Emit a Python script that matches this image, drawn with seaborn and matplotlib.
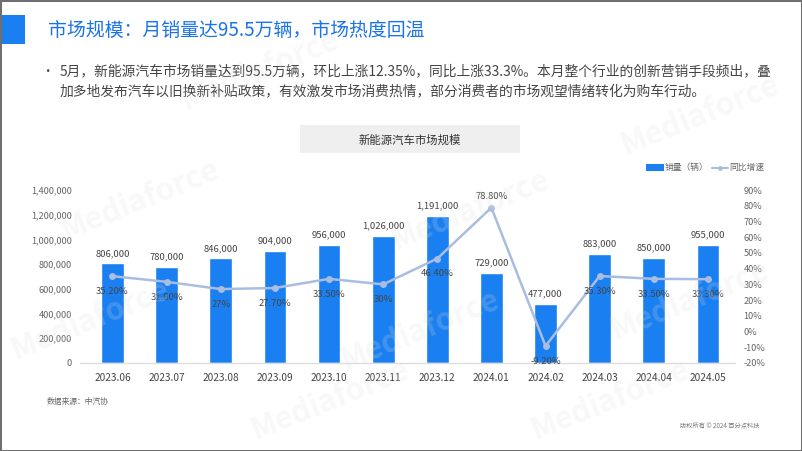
import numpy as np
import pandas as pd
import matplotlib
matplotlib.use("Agg")
import matplotlib.pyplot as plt
from matplotlib.patches import Rectangle
import seaborn as sns

months = ["2023.06", "2023.07", "2023.08", "2023.09", "2023.10", "2023.11",
          "2023.12", "2024.01", "2024.02", "2024.03", "2024.04", "2024.05"]
sales = [806000, 780000, 846000, 904000, 956000, 1026000,
         1191000, 729000, 477000, 883000, 850000, 955000]
yoy = [35.2, 31.6, 27.0, 27.7, 33.5, 30.0, 46.4, 78.8, -9.2, 35.3, 33.5, 33.3]
left_ticks = [0, 200000, 400000, 600000, 800000, 1000000, 1200000, 1400000]
right_ticks = [-20, -10, 0, 10, 20, 30, 40, 50, 60, 70, 80, 90]

sns.set_theme(style="white")
plt.rcParams['font.family'] = ['Noto Sans CJK SC', 'DejaVu Sans']
plt.rcParams['axes.unicode_minus'] = False

BAR = "#1a7ff0"
LINE = "#a9bde2"
W, H = 802, 451
fig = plt.figure(figsize=(W / 100, H / 100), dpi=100)
fig.patch.set_facecolor("white")

def fx(px):
    return px / W

def fy(py):
    return 1 - py / H

# frame
fig.patches.append(Rectangle((0, 0), 1, 1, transform=fig.transFigure, fill=False,
                             edgecolor="#6f6f6f", linewidth=2.2, zorder=10))
# title block
fig.patches.append(Rectangle((fx(0), fy(44)), fx(25), 29 / H, transform=fig.transFigure,
                             facecolor=BAR, edgecolor="none"))
fig.text(fx(48), fy(30), "市场规模：月销量达95.5万辆，市场热度回温", fontsize=13.6,
         color="#1a73e8", fontweight="medium", va="center", ha="left")
fig.text(fx(41), fy(71), "•", fontsize=9, color="#444444", va="center")
fig.text(fx(60), fy(71), "5月，新能源汽车市场销量达到95.5万辆，环比上涨12.35%，同比上涨33.3%。本月整个行业的创新营销手段频出，叠",
         fontsize=9.9, color="#444444", va="center", ha="left")
fig.text(fx(60), fy(91), "加多地发布汽车以旧换新补贴政策，有效激发市场消费热情，部分消费者的市场观望情绪转化为购车行动。",
         fontsize=9.9, color="#444444", va="center", ha="left")

# chart title box
fig.patches.append(Rectangle((fx(300), fy(153)), fx(220), 28 / H, transform=fig.transFigure,
                             facecolor="#efefef", edgecolor="none"))
fig.text(fx(410), fy(140), "新能源汽车市场规模", fontsize=8.2, color="#333333",
         va="center", ha="center")

# legend (drawn manually in figure coords)
fig.patches.append(Rectangle((fx(646), fy(171)), fx(18), 7 / H, transform=fig.transFigure,
                             facecolor=BAR, edgecolor="none"))
fig.text(fx(665), fy(167.5), "销量（辆）", fontsize=6.3, color="#666666", va="center")
fig.lines.append(plt.Line2D([fx(712), fx(728)], [fy(167.5), fy(167.5)], transform=fig.transFigure,
                            color=LINE, linewidth=1.5))
fig.lines.append(plt.Line2D([fx(720)], [fy(167.5)], transform=fig.transFigure,
                            color=LINE, marker="o", markersize=3.5, markeredgewidth=0))
fig.text(fx(729), fy(167.5), "同比增速", fontsize=6.3, color="#666666", va="center")

# axes
ax = fig.add_axes([fx(80), fy(363), fx(655), (363 - 190) / H])
ax.set_facecolor("none")
df = pd.DataFrame({"month": months, "sales": sales, "yoy": yoy})
sns.barplot(data=df, x="month", y="sales", color=BAR, width=0.42, ax=ax,
            saturation=1, zorder=2)
ax.set_ylim(0, 1400000)
ax.set_yticks(left_ticks)
ax.set_yticklabels([f"{v:,}" for v in left_ticks], fontsize=6.6, color="#666666")
ax.set_xlim(-0.6, 11.5)
ax.set_xlabel("")
ax.set_ylabel("")
ax.tick_params(axis="x", labelsize=7.3, colors="#444444", length=0, pad=7)
ax.tick_params(axis="y", length=0, pad=6)
for s in ["top", "right", "left"]:
    ax.spines[s].set_visible(False)
ax.spines["bottom"].set_color("#dddddd")
ax.spines["bottom"].set_linewidth(1)
ax.bar_label(ax.containers[0], labels=[f"{v:,}" for v in sales], padding=4,
             fontsize=6.8, color="#444444")

ax2 = ax.twinx()
sns.lineplot(x=np.arange(len(months)), y=yoy, ax=ax2, color=LINE, linewidth=1.8,
             marker="o", markersize=5, markeredgewidth=0, zorder=3)
ax2.set_ylim(-20, 90)
ax2.set_yticks(right_ticks)
ax2.set_yticklabels([f"{v}%" for v in right_ticks], fontsize=6.6, color="#666666")
ax2.tick_params(axis="y", length=0, pad=6)
for s in ["top", "right", "left", "bottom"]:
    ax2.spines[s].set_visible(False)
ax2.set_xlim(-0.6, 11.5)

for i, v in enumerate(yoy):
    lab = f"{v:.0f}%" if float(v).is_integer() else f"{v:.2f}%"
    off = 8 if i == 7 else -11
    ax2.annotate(lab, (i, v), xytext=(0, off), textcoords="offset points",
                 ha="center", va="center", fontsize=6.8, color="#444444")

# footer
fig.text(fx(47), fy(402), "数据来源：中汽协", fontsize=5.6, color="#666666", va="center")
fig.text(fx(760), fy(426), "版权所有 © 2024 百分点科技", fontsize=4.5, color="#777777",
         va="center", ha="right")

# faint watermarks
for (px, py) in [(140, 200), (470, 210), (700, 115), (90, 320), (420, 330),
                 (690, 300), (330, 400), (610, 400), (260, 70)]:
    fig.text(fx(px), fy(py), "Mediaforce", fontsize=22, fontweight="bold",
             color="#e0e0e0", alpha=0.2, rotation=22, ha="center", va="center", zorder=20)

fig.savefig("out.png", dpi=100)
